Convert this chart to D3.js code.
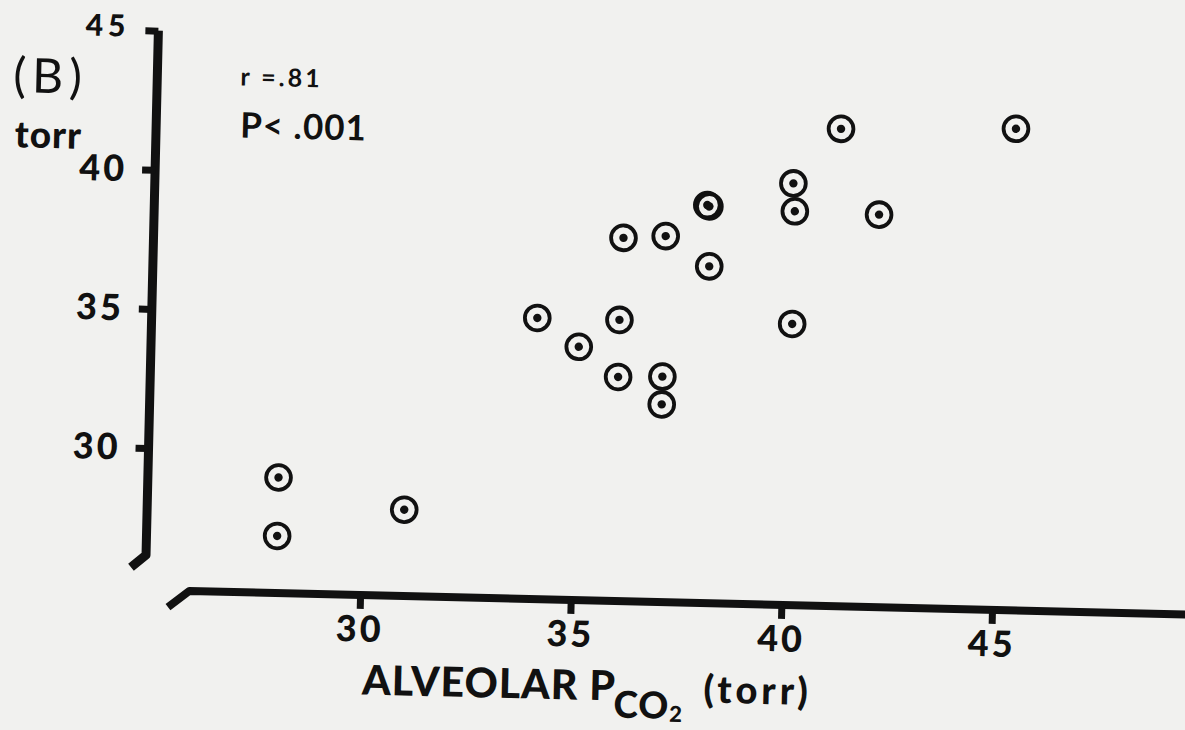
<!DOCTYPE html>
<html>
<head>
<meta charset="utf-8">
<script src="https://cdnjs.cloudflare.com/ajax/libs/d3/7.8.5/d3.min.js"></script>
<style>
  html, body { margin: 0; padding: 0; background: #f1f1ef; }
  svg { display: block; }
  .ink { font-family: Lato, "DejaVu Sans", sans-serif; fill: #111; }
</style>
</head>
<body>
<svg id="chart" width="1185" height="730"></svg>
<script>
// alveolar PCO2 (x) against the measured PCO2 (y), torr
const pco2_alv = [28.0, 28.0, 31.0, 34.05, 35.05, 36.0, 36.0, 36.05, 37.05, 37.05, 37.05, 38.02, 38.07, 38.1, 40.05, 40.1, 40.1, 41.15, 42.1, 45.3];
const pco2_meas = [29.05, 26.95, 28.0, 35.0, 34.0, 35.0, 32.95, 37.95, 38.05, 33.0, 32.0, 39.2, 39.15, 37.0, 40.05, 39.05, 35.0, 42.05, 39.0, 42.2];
const xticks = [30, 35, 40, 45];
const yticks = [30, 35, 40, 45];

const ink = "#111";
const svg = d3.select("#chart");

// the scanned figure sits a little askew, so the whole plot is turned
const g = svg.append("g").attr("transform", "rotate(1.35,600,350)");

const x = d3.scaleLinear().domain([25, 45]).range([155.2, 998.0]);
const y = d3.scaleLinear().domain([25, 45]).range([597.75, 41.15]);

const line = d3.line().x(d => x(d[0])).y(d => y(d[1]));

// axis lines with their little curled ends
g.append("path")
  .attr("d", line([[24.9, 45], [24.9, 26.15], [24.55, 25.7]]))
  .attr("fill", "none").attr("stroke", ink)
  .attr("stroke-width", 9).attr("stroke-linejoin", "round");
g.append("path")
  .attr("d", line([[25.45, 24.3], [25.95, 24.9], [49.8, 24.9]]))
  .attr("fill", "none").attr("stroke", ink)
  .attr("stroke-width", 8).attr("stroke-linejoin", "round");

const yAxis = g.append("g")
  .attr("transform", `translate(${x(24.9)},0)`)
  .call(d3.axisLeft(y).tickValues(yticks).tickSize(13).tickPadding(15));
const xAxis = g.append("g")
  .attr("transform", `translate(0,${y(24.9)})`)
  .call(d3.axisBottom(x).tickValues(xticks).tickSize(14).tickPadding(7));

[yAxis, xAxis].forEach(a => {
  a.select(".domain").remove();
  a.attr("font-family", "Lato, 'DejaVu Sans', sans-serif").attr("font-size", 36).attr("font-weight", 900);
  a.selectAll(".tick line").attr("stroke", ink).attr("stroke-width", 7);
  a.selectAll(".tick text").attr("fill", ink).attr("letter-spacing", 3);
});
yAxis.selectAll(".tick text").filter(d => d === 45)
  .attr("font-size", 30).attr("letter-spacing", 5).attr("dy", "0.2em");

// points: ring with a dot in the middle
const pts = g.append("g").selectAll("g")
  .data(pco2_alv.map((v, i) => [v, pco2_meas[i]]))
  .join("g")
  .attr("transform", d => `translate(${x(d[0])},${y(d[1])})`);
pts.append("circle").attr("r", 12.4).attr("fill", "none")
  .attr("stroke", ink).attr("stroke-width", 3.8);
pts.append("circle").attr("r", 4.2).attr("fill", ink);

// labels
g.append("text").attr("class", "ink")
  .attr("x", 7).attr("y", 106)
  .attr("font-size", 48).attr("letter-spacing", 6)
  .text("(B)");
g.append("text").attr("class", "ink")
  .attr("x", 10).attr("y", 161)
  .attr("font-size", 37).attr("font-weight", 900).attr("letter-spacing", 1)
  .text("torr");
g.append("text").attr("class", "ink")
  .attr("x", 234).attr("y", 94)
  .attr("font-size", 25).attr("font-weight", 700).attr("letter-spacing", 3)
  .text("r =.81");
g.append("text").attr("class", "ink")
  .attr("x", 235).attr("y", 146)
  .attr("font-size", 35).attr("font-weight", 700).attr("letter-spacing", 1)
  .text("P< .001");

const xl = g.append("text").attr("class", "ink")
  .attr("x", 370).attr("y", 700)
  .attr("font-size", 41).attr("font-weight", 900).attr("letter-spacing", 1);
xl.append("tspan").text("ALVEOLAR P");
xl.append("tspan").attr("dy", 17).attr("dx", -2).attr("font-size", 37).text("CO");
xl.append("tspan").attr("dy", 3).attr("font-size", 22).text("2");
xl.append("tspan").attr("dy", -20).attr("dx", 20).attr("font-size", 38).attr("letter-spacing", 4).text("(torr)");
</script>
</body>
</html>
